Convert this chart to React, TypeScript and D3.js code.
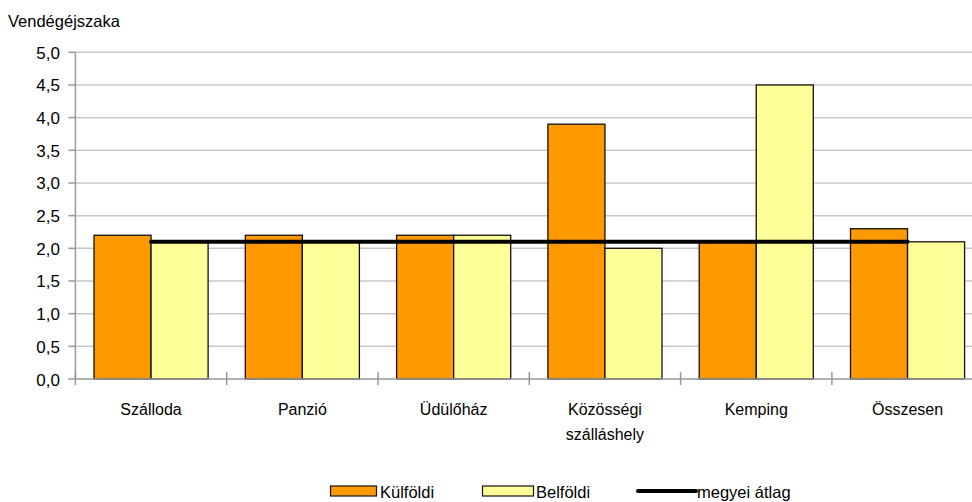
import React from "react";
import * as d3 from "d3";

const categories: string[][] = [
  ["Szálloda"],
  ["Panzió"],
  ["Üdülőház"],
  ["Közösségi", "szálláshely"],
  ["Kemping"],
  ["Összesen"],
];
const kulfoldi = [2.2, 2.2, 2.2, 3.9, 2.1, 2.3];
const belfoldi = [2.1, 2.1, 2.2, 2.0, 4.5, 2.1];
const megyeiAtlag = 2.1;
const yTicks = [0, 0.5, 1, 1.5, 2, 2.5, 3, 3.5, 4, 4.5, 5];
const seriesNames = ["Külföldi", "Belföldi", "megyei átlag"];

const W = 972;
const H = 502;
const FONT = "'Liberation Sans', Arial, sans-serif";

export default function App() {
  const x0 = 75.4;
  const band = 151.3;
  const keys = categories.map((_, i) => String(i));
  const x = d3
    .scaleBand<string>()
    .domain(keys)
    .range([x0, x0 + band * keys.length]);
  const inner = d3.scaleBand<string>().domain(["k", "b"]).range([18.6, band - 18.6]);
  const y = d3.scaleLinear().domain([0, 5]).range([379, 52.3]);
  const fmt = (v: number) => v.toFixed(1).replace(".", ",");
  const colors = { k: "#FF9900", b: "#FFFF99" };
  const gridRight = W;

  const lineX1 = (x(keys[0]) ?? 0) + band / 2;
  const lineX2 = (x(keys[keys.length - 1]) ?? 0) + band / 2;

  return (
    <svg
      width={W}
      height={H}
      style={{ position: "absolute", left: 0, top: 0, display: "block" }}
      fontFamily={FONT}
    >
      <rect width={W} height={H} fill="#fff" />
      <text x={8} y={27} fontSize={16.5} fill="#000">
        Vendégéjszaka
      </text>
      {yTicks.map((t) => (
        <g key={t}>
          {t > 0 && (
            <line x1={x0} x2={gridRight} y1={y(t)} y2={y(t)} stroke="#c8c8c8" strokeWidth={1.5} />
          )}
          <line x1={x0 - 7} x2={x0} y1={y(t)} y2={y(t)} stroke="#999" strokeWidth={1.5} />
          <text x={60} y={y(t) + 6.5} fontSize={17} textAnchor="end" fill="#000">
            {fmt(t)}
          </text>
        </g>
      ))}
      {keys.map((k, i) => {
        const bx = x(k) ?? 0;
        const vals: [string, number][] = [
          ["k", kulfoldi[i]],
          ["b", belfoldi[i]],
        ];
        return (
          <g key={k}>
            {vals.map(([s, v]) => (
              <rect
                key={s}
                x={bx + (inner(s) ?? 0)}
                y={y(v)}
                width={inner.bandwidth()}
                height={y(0) - y(v)}
                fill={(colors as any)[s]}
                stroke="#111"
                strokeWidth={1.3}
              />
            ))}
          </g>
        );
      })}
      <line x1={x0} x2={x0} y1={y(5)} y2={y(0)} stroke="#999" strokeWidth={1.5} />
      <line x1={x0} x2={gridRight} y1={y(0)} y2={y(0)} stroke="#999" strokeWidth={1.5} />
      {keys.map((k) => (
        <line
          key={"t" + k}
          x1={x(k) ?? 0}
          x2={x(k) ?? 0}
          y1={y(0) - 7}
          y2={y(0) + 6}
          stroke="#999"
          strokeWidth={1.5}
        />
      ))}
      <line
        x1={lineX1}
        x2={lineX2}
        y1={y(megyeiAtlag)}
        y2={y(megyeiAtlag)}
        stroke="#000"
        strokeWidth={4}
        strokeLinecap="round"
      />
      {keys.map((k, i) => (
        <text
          key={"c" + k}
          x={(x(k) ?? 0) + band / 2}
          y={415}
          fontSize={16}
          textAnchor="middle"
          fill="#000"
        >
          {categories[i].map((line, j) => (
            <tspan key={j} x={(x(k) ?? 0) + band / 2} dy={j === 0 ? 0 : 25}>
              {line}
            </tspan>
          ))}
        </text>
      ))}
      <g fontSize={16.5}>
        <rect x={330.5} y={486} width={46} height={10} fill={colors.k} stroke="#111" strokeWidth={1.2} />
        <text x={380} y={497.5} fill="#000">{seriesNames[0]}</text>
        <rect x={482.5} y={486} width={51} height={10} fill={colors.b} stroke="#111" strokeWidth={1.2} />
        <text x={536} y={497.5} fill="#000">{seriesNames[1]}</text>
        <line x1={638} x2={696} y1={491} y2={491} stroke="#000" strokeWidth={4} strokeLinecap="round" />
        <text x={697} y={497.5} fill="#000">{seriesNames[2]}</text>
      </g>
    </svg>
  );
}
